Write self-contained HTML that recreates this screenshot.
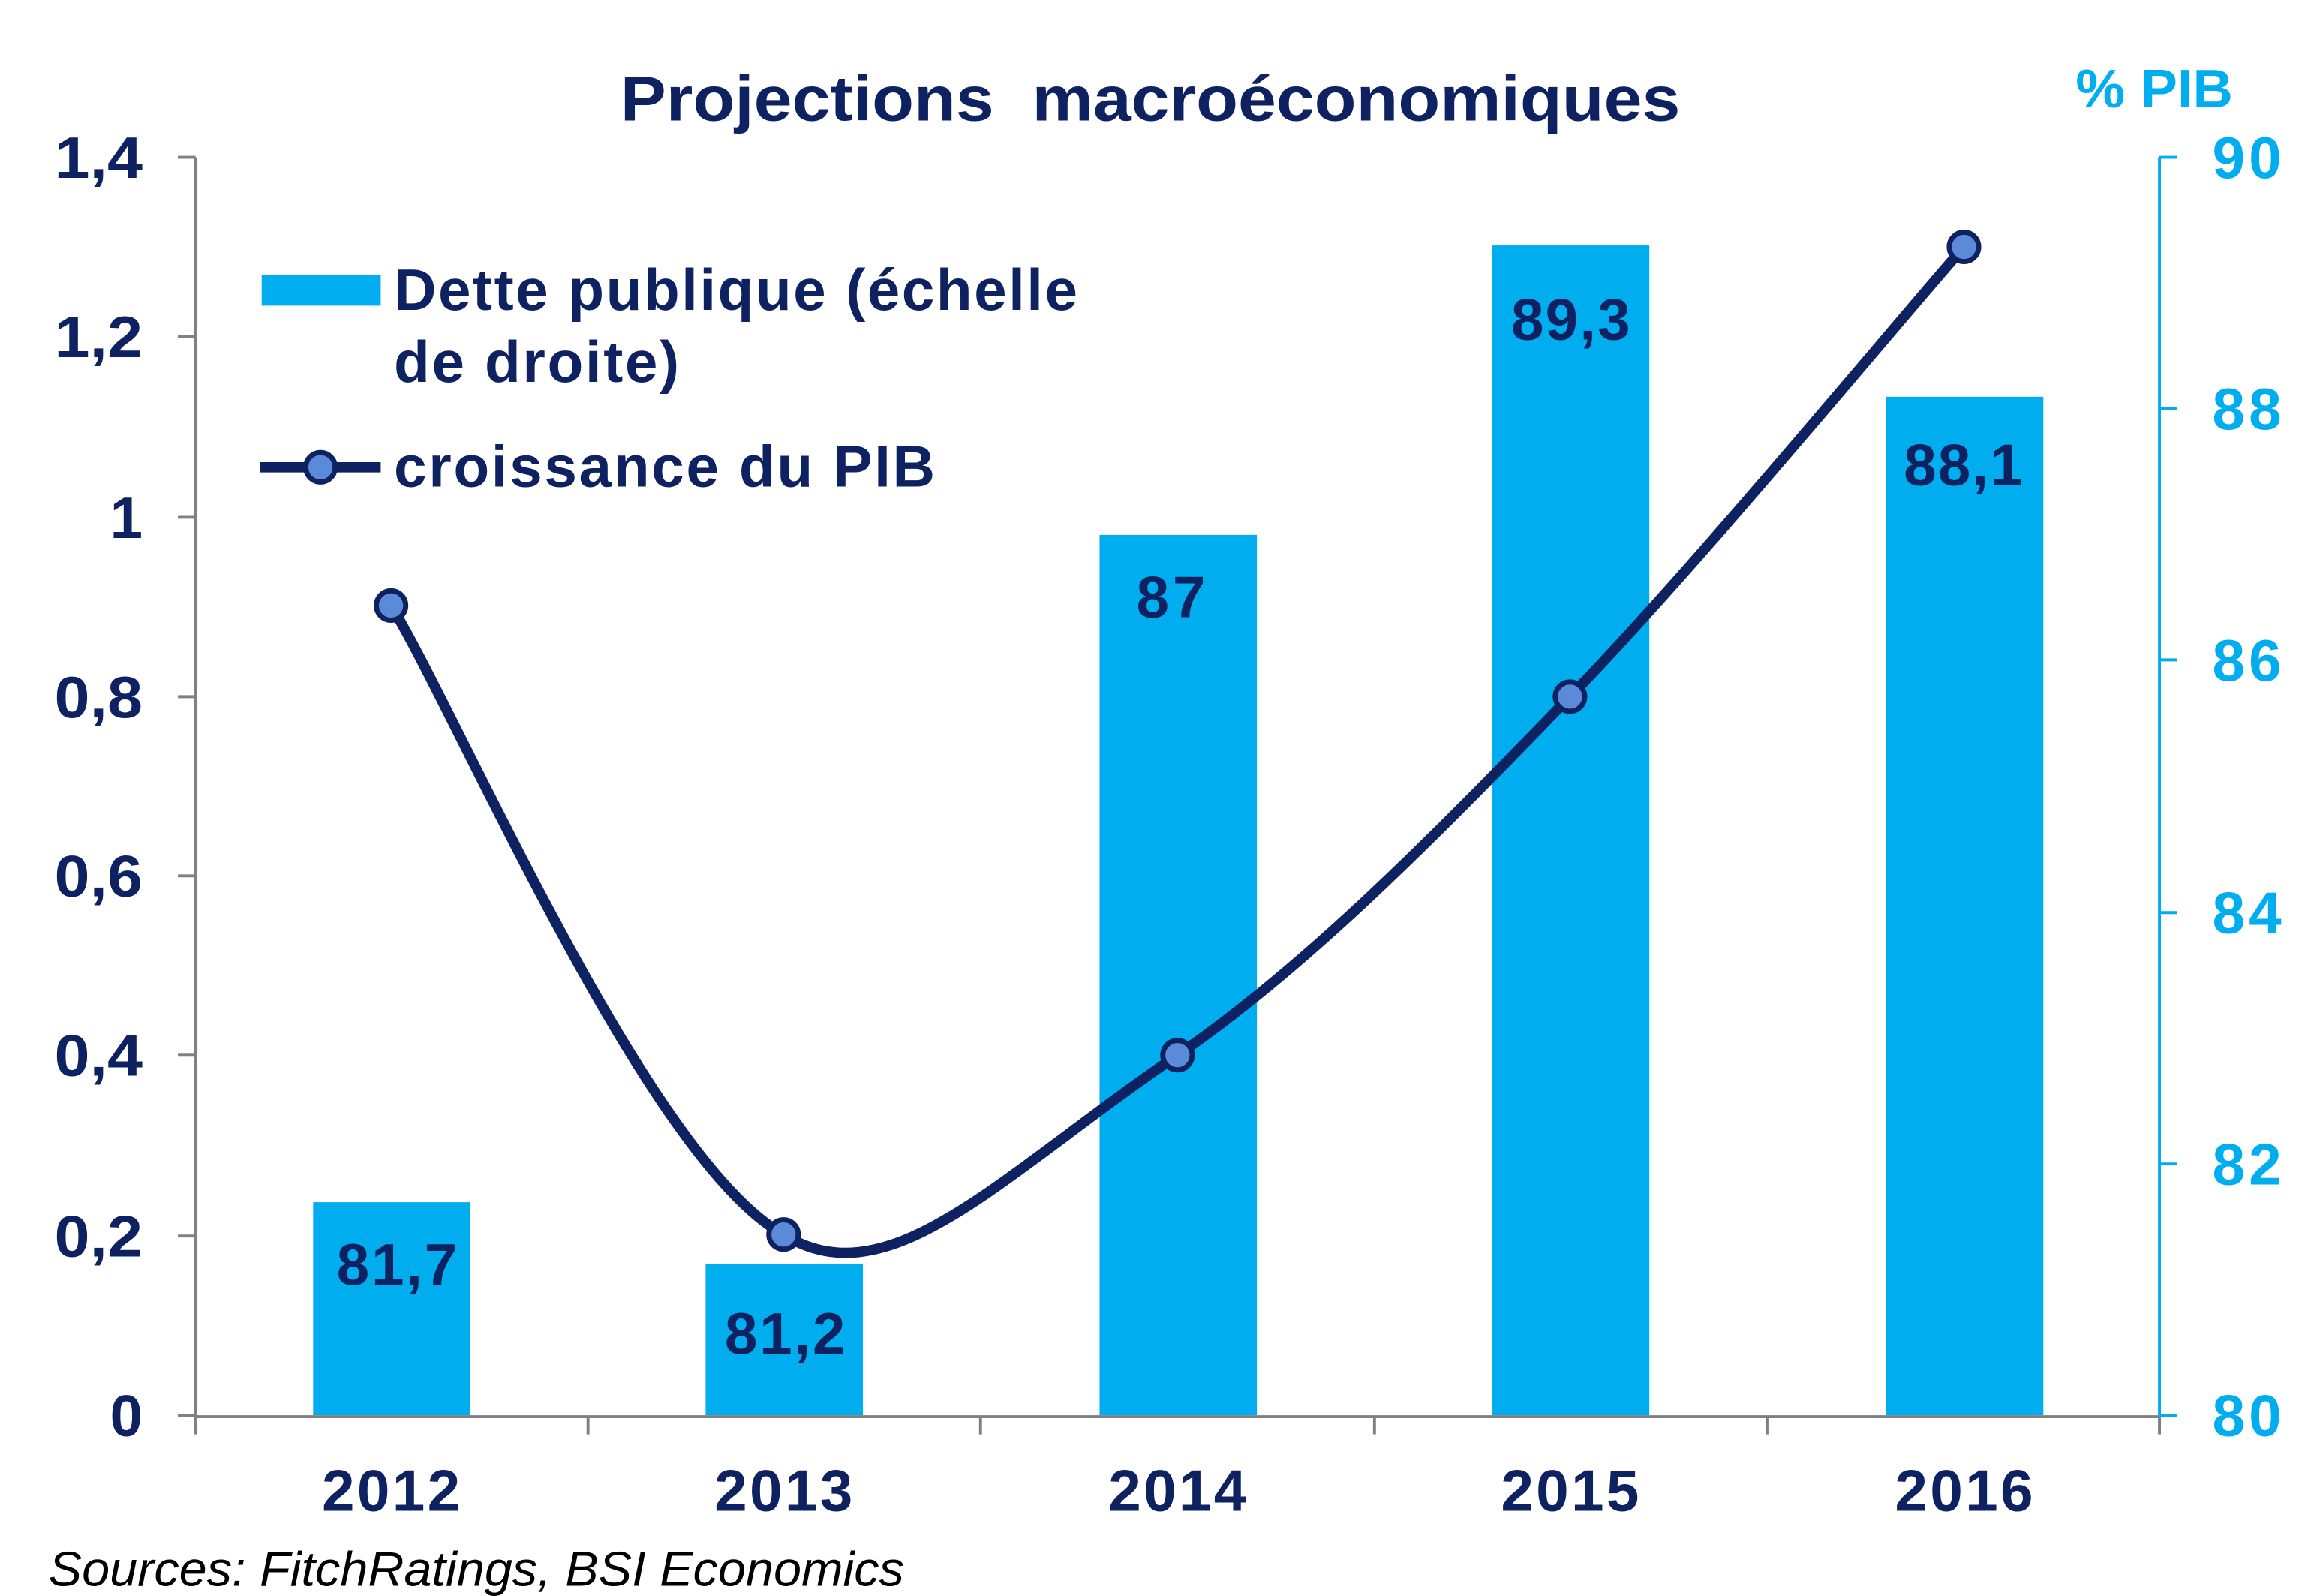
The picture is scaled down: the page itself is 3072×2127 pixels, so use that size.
<!DOCTYPE html>
<html><head><meta charset="utf-8"><style>
html,body{margin:0;padding:0;background:#fff;}
svg{display:block;}
text{font-family:"Liberation Sans",Arial,sans-serif;}
.b{font-weight:bold;}
</style></head><body>
<svg width="3072" height="2127" viewBox="0 0 1568 1086" preserveAspectRatio="none" xmlns="http://www.w3.org/2000/svg">
<rect width="1568" height="1086" fill="#fff"/>
<text class="b" x="422" y="82" font-size="43" fill="#0e2161" textLength="721" lengthAdjust="spacingAndGlyphs" xml:space="preserve">Projections  macroéconomiques</text>
<text class="b" x="1412" y="73" font-size="37" fill="#00aeef" textLength="107" lengthAdjust="spacingAndGlyphs">% PIB</text>
<!-- bars -->
<g fill="#00aeef">
<rect x="213" y="818" width="107" height="145"/>
<rect x="480" y="860" width="107" height="103"/>
<rect x="748" y="364" width="107" height="599"/>
<rect x="1015" y="167" width="107" height="796"/>
<rect x="1283" y="270" width="107" height="693"/>
</g>
<g class="b" font-size="40" fill="#0e2161" lengthAdjust="spacingAndGlyphs">
<text x="229" y="874" textLength="82">81,7</text>
<text x="493" y="921" textLength="82">81,2</text>
<text x="773" y="420" textLength="47">87</text>
<text x="1028" y="231" textLength="81">89,3</text>
<text x="1295" y="330" textLength="81">88,1</text>
</g>
<!-- axes -->
<g stroke="#808080" stroke-width="2" fill="none">
<line x1="133" y1="107" x2="133" y2="964"/>
<line x1="133" y1="964" x2="1469" y2="964"/>
<line x1="121" y1="107" x2="133" y2="107"/><line x1="121" y1="229" x2="133" y2="229"/>
<line x1="121" y1="352" x2="133" y2="352"/><line x1="121" y1="474" x2="133" y2="474"/>
<line x1="121" y1="596" x2="133" y2="596"/><line x1="121" y1="718" x2="133" y2="718"/>
<line x1="121" y1="841" x2="133" y2="841"/><line x1="121" y1="963" x2="133" y2="963"/>
<line x1="133" y1="964" x2="133" y2="976"/><line x1="400" y1="964" x2="400" y2="976"/>
<line x1="667" y1="964" x2="667" y2="976"/><line x1="935" y1="964" x2="935" y2="976"/>
<line x1="1202" y1="964" x2="1202" y2="976"/><line x1="1469" y1="964" x2="1469" y2="976"/>
</g>
<g stroke="#00aeef" stroke-width="2">
<line x1="1469" y1="107" x2="1469" y2="964"/>
<line x1="1469" y1="107" x2="1481" y2="107"/><line x1="1469" y1="278" x2="1481" y2="278"/>
<line x1="1469" y1="449" x2="1481" y2="449"/><line x1="1469" y1="621" x2="1481" y2="621"/>
<line x1="1469" y1="792" x2="1481" y2="792"/><line x1="1469" y1="963" x2="1481" y2="963"/>
</g>
<g class="b" font-size="40" fill="#0e2161">
<text x="37" y="121" textLength="60" lengthAdjust="spacingAndGlyphs">1,4</text>
<text x="37" y="243" textLength="60" lengthAdjust="spacingAndGlyphs">1,2</text>
<text x="97" y="366" text-anchor="end">1</text>
<text x="37" y="488" textLength="60" lengthAdjust="spacingAndGlyphs">0,8</text>
<text x="37" y="610" textLength="60" lengthAdjust="spacingAndGlyphs">0,6</text>
<text x="37" y="732" textLength="60" lengthAdjust="spacingAndGlyphs">0,4</text>
<text x="37" y="855" textLength="60" lengthAdjust="spacingAndGlyphs">0,2</text>
<text x="97" y="977" text-anchor="end">0</text>
</g>
<g class="b" font-size="40" fill="#00aeef" lengthAdjust="spacingAndGlyphs">
<text x="1505" y="121" textLength="47">90</text><text x="1505" y="292" textLength="47">88</text>
<text x="1505" y="463" textLength="47">86</text><text x="1505" y="635" textLength="47">84</text>
<text x="1505" y="806" textLength="47">82</text><text x="1505" y="977" textLength="47">80</text>
</g>
<g class="b" font-size="40" fill="#0e2161" lengthAdjust="spacingAndGlyphs">
<text x="219" y="1028" textLength="94">2012</text><text x="486" y="1028" textLength="94">2013</text>
<text x="754" y="1028" textLength="94">2014</text><text x="1021" y="1028" textLength="94">2015</text>
<text x="1289" y="1028" textLength="94">2016</text>
</g>
<text x="33" y="1079" font-size="33" fill="#000" font-style="italic" textLength="582" lengthAdjust="spacingAndGlyphs">Sources: FitchRatings, BSI Economics</text>
<!-- line -->
<path d="M266,412 C310,483 440,789 533,840 C605,885 680,800 801,718 C890,657 979,566 1068,474 C1157,382 1291,219 1336,168" fill="none" stroke="#0e2161" stroke-width="7"/>
<g fill="#5b8bd8" stroke="#0e2161" stroke-width="3.5">
<circle cx="266" cy="412" r="10"/><circle cx="533" cy="840" r="10"/><circle cx="801" cy="718" r="10"/>
<circle cx="1068" cy="474" r="10"/><circle cx="1336" cy="168" r="10"/>
</g>
<!-- legend -->
<rect x="178" y="187" width="81" height="21" fill="#00aeef"/>
<g class="b" font-size="40" fill="#0e2161" lengthAdjust="spacingAndGlyphs">
<text x="268" y="211" textLength="465">Dette publique (échelle</text>
<text x="268" y="260" textLength="194">de droite)</text>
<text x="268" y="331" textLength="368">croissance du PIB</text>
</g>
<line x1="177" y1="318" x2="259" y2="318" stroke="#0e2161" stroke-width="7"/>
<circle cx="218" cy="318" r="10" fill="#5b8bd8" stroke="#0e2161" stroke-width="3.5"/>
</svg>
</body></html>
